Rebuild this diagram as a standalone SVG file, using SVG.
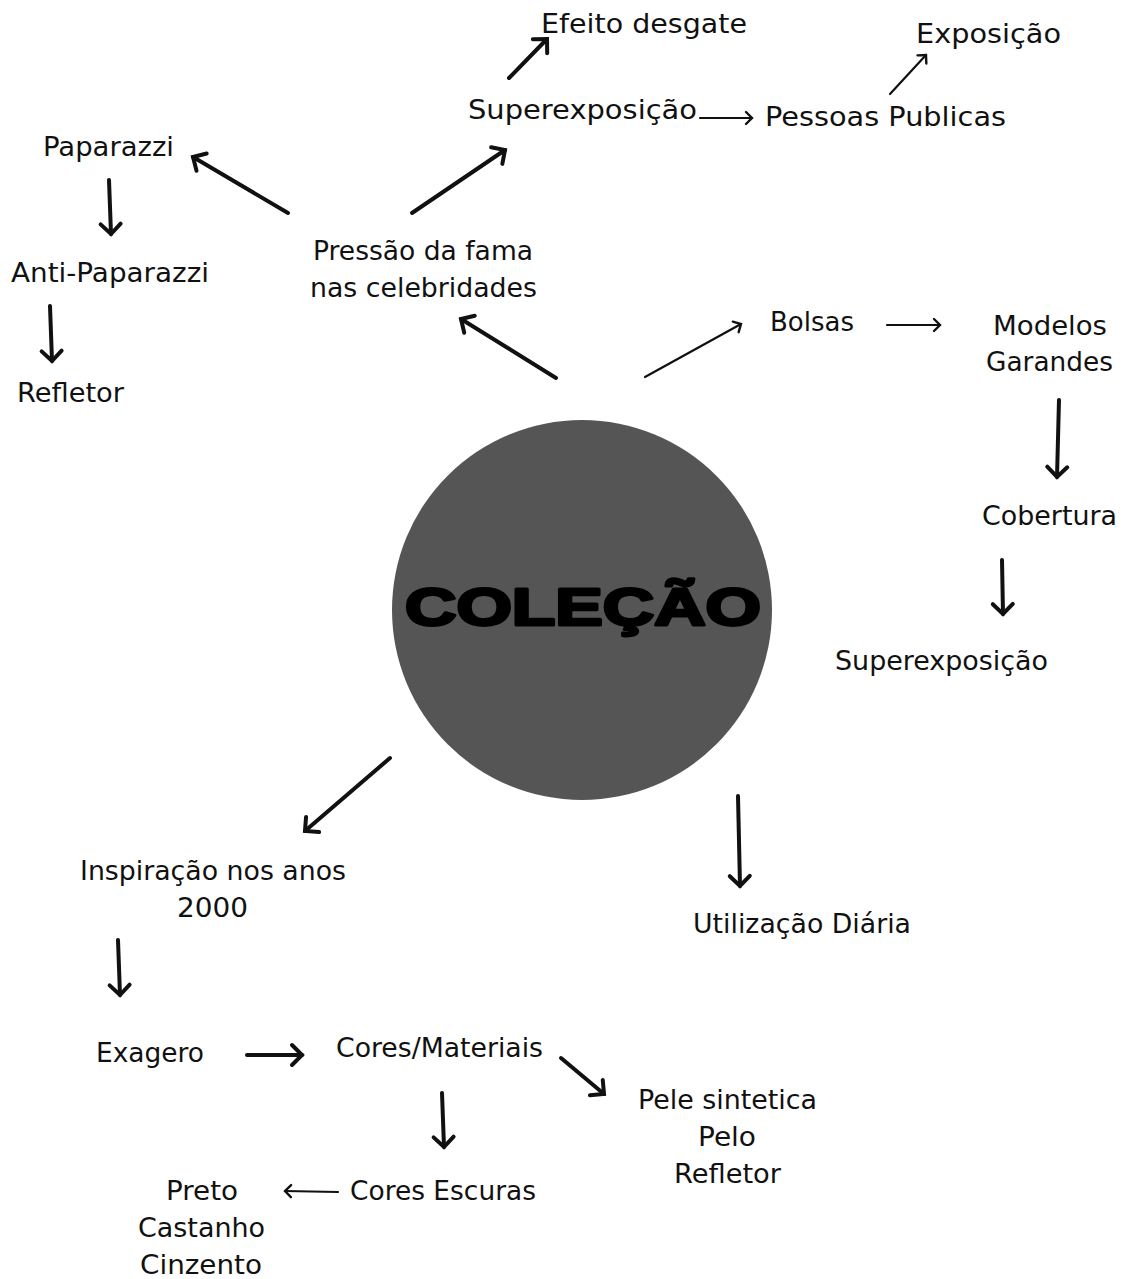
<svg xmlns="http://www.w3.org/2000/svg" width="1123" height="1279" viewBox="0 0 1123 1279">
<defs>
<style>
text{font-family:"DejaVu Sans","Open Sans",sans-serif;font-size:26px;fill:#111;}
.thick{stroke:#111;stroke-width:4;fill:none;stroke-linecap:round;}
.thin{stroke:#111;stroke-width:2.2;fill:none;stroke-linecap:round;}
.title{font-family:"Liberation Sans","Arial Black",sans-serif;font-weight:900;font-size:52px;fill:#000;stroke:#000;stroke-width:3;stroke-linejoin:round;}
</style>
<marker id="ah" markerUnits="userSpaceOnUse" markerWidth="30" markerHeight="30" refX="15" refY="15" orient="auto" viewBox="0 0 30 30">
<path d="M5,5 L15,15 L5,25" fill="none" stroke="#111" stroke-width="4" stroke-linecap="round" stroke-linejoin="miter"/>
</marker>
<marker id="ahs" markerUnits="userSpaceOnUse" markerWidth="20" markerHeight="20" refX="10" refY="10" orient="auto" viewBox="0 0 20 20">
<path d="M4,4 L10,10 L4,16" fill="none" stroke="#111" stroke-width="2.4" stroke-linecap="round"/>
</marker>
</defs>
<rect width="1123" height="1279" fill="#fff"/>

<g id="center">
<circle cx="582" cy="610" r="190" fill="#555555"/>
<text class="title" x="583" y="625" text-anchor="middle" textLength="356" lengthAdjust="spacingAndGlyphs">COLEÇÃO</text>
</g>

<g id="connectors">
<line class="thick" x1="288" y1="213" x2="193" y2="157" marker-end="url(#ah)"/>
<line class="thick" x1="412" y1="213" x2="505" y2="150" marker-end="url(#ah)"/>
<line class="thick" x1="509" y1="78" x2="547" y2="39" marker-end="url(#ah)"/>
<line class="thin" x1="700" y1="118" x2="752" y2="118" marker-end="url(#ahs)"/>
<line class="thin" x1="890" y1="94" x2="926" y2="55" marker-end="url(#ahs)"/>
<line class="thick" x1="109" y1="180" x2="111" y2="234" marker-end="url(#ah)"/>
<line class="thick" x1="50" y1="306" x2="52" y2="361" marker-end="url(#ah)"/>
<line class="thick" x1="556" y1="378" x2="461" y2="319" marker-end="url(#ah)"/>
<line class="thin" x1="645" y1="377" x2="741" y2="324" marker-end="url(#ahs)"/>
<line class="thin" x1="887" y1="325" x2="940" y2="325" marker-end="url(#ahs)"/>
<line class="thick" x1="1059" y1="400" x2="1057" y2="477" marker-end="url(#ah)"/>
<line class="thick" x1="1002" y1="560" x2="1003" y2="614" marker-end="url(#ah)"/>
<line class="thick" x1="390" y1="758" x2="305" y2="831" marker-end="url(#ah)"/>
<line class="thick" x1="738" y1="796" x2="740" y2="886" marker-end="url(#ah)"/>
<line class="thick" x1="118" y1="940" x2="120" y2="995" marker-end="url(#ah)"/>
<line class="thick" x1="247" y1="1055" x2="302" y2="1055" marker-end="url(#ah)"/>
<line class="thick" x1="561" y1="1058" x2="604" y2="1094" marker-end="url(#ah)"/>
<line class="thick" x1="442" y1="1093" x2="444" y2="1147" marker-end="url(#ah)"/>
<line class="thin" x1="338" y1="1192" x2="285" y2="1191" marker-end="url(#ahs)"/>
</g>

<g id="n-efeito"><text x="541" y="33" textLength="206" lengthAdjust="spacingAndGlyphs">Efeito desgate</text></g>
<g id="n-exposicao"><text x="916" y="43" textLength="145" lengthAdjust="spacingAndGlyphs">Exposição</text></g>
<g id="n-superexposicao-top"><text x="468" y="119" textLength="229" lengthAdjust="spacingAndGlyphs">Superexposição</text></g>
<g id="n-pessoas"><text x="765" y="126" textLength="241" lengthAdjust="spacingAndGlyphs">Pessoas Publicas</text></g>
<g id="n-paparazzi"><text x="43" y="156" textLength="131" lengthAdjust="spacingAndGlyphs">Paparazzi</text></g>
<g id="n-anti"><text x="11" y="282" textLength="198" lengthAdjust="spacingAndGlyphs">Anti-Paparazzi</text></g>
<g id="n-refletor1"><text x="17" y="402" textLength="107" lengthAdjust="spacingAndGlyphs">Refletor</text></g>
<g id="n-pressao">
<text x="313" y="260" textLength="220" lengthAdjust="spacingAndGlyphs">Pressão da fama</text>
<text x="310" y="297" textLength="227" lengthAdjust="spacingAndGlyphs">nas celebridades</text>
</g>
<g id="n-bolsas"><text x="770" y="331" textLength="84" lengthAdjust="spacingAndGlyphs">Bolsas</text></g>
<g id="n-modelos">
<text x="993" y="335" textLength="114" lengthAdjust="spacingAndGlyphs">Modelos</text>
<text x="986" y="371" textLength="127" lengthAdjust="spacingAndGlyphs">Garandes</text>
</g>
<g id="n-cobertura"><text x="982" y="525" textLength="135" lengthAdjust="spacingAndGlyphs">Cobertura</text></g>
<g id="n-superexposicao-right"><text x="835" y="670" textLength="213" lengthAdjust="spacingAndGlyphs">Superexposição</text></g>
<g id="n-inspiracao">
<text x="80" y="880" textLength="266" lengthAdjust="spacingAndGlyphs">Inspiração nos anos</text>
<text x="177" y="917" textLength="71" lengthAdjust="spacingAndGlyphs">2000</text>
</g>
<g id="n-utilizacao"><text x="693" y="933" textLength="218" lengthAdjust="spacingAndGlyphs">Utilização Diária</text></g>
<g id="n-exagero"><text x="96" y="1062" textLength="108" lengthAdjust="spacingAndGlyphs">Exagero</text></g>
<g id="n-cores-materiais"><text x="336" y="1057" textLength="207" lengthAdjust="spacingAndGlyphs">Cores/Materiais</text></g>
<g id="n-pele">
<text x="638" y="1109" textLength="179" lengthAdjust="spacingAndGlyphs">Pele sintetica</text>
<text x="698" y="1146" textLength="58" lengthAdjust="spacingAndGlyphs">Pelo</text>
<text x="674" y="1183" textLength="107" lengthAdjust="spacingAndGlyphs">Refletor</text>
</g>
<g id="n-cores-escuras"><text x="350" y="1200" textLength="186" lengthAdjust="spacingAndGlyphs">Cores Escuras</text></g>
<g id="n-preto">
<text x="166" y="1200" textLength="72" lengthAdjust="spacingAndGlyphs">Preto</text>
<text x="138" y="1237" textLength="127" lengthAdjust="spacingAndGlyphs">Castanho</text>
<text x="140" y="1274" textLength="122" lengthAdjust="spacingAndGlyphs">Cinzento</text>
</g>
</svg>
